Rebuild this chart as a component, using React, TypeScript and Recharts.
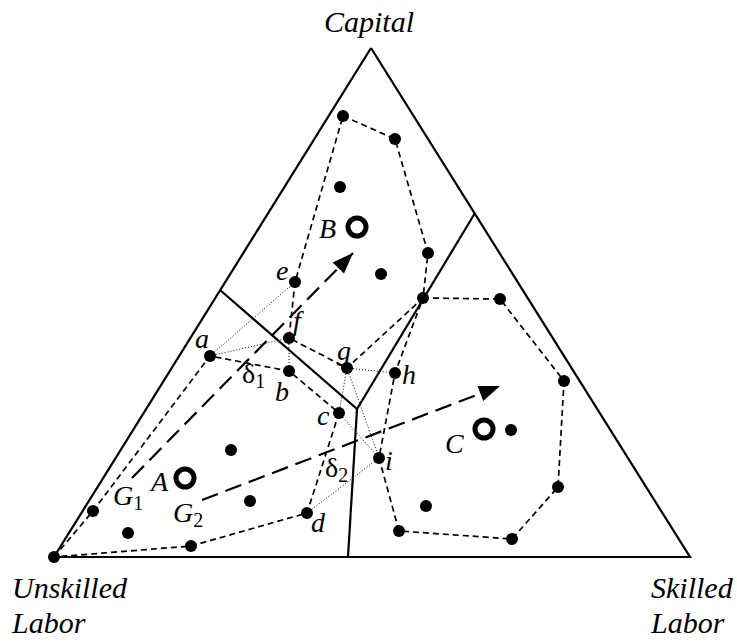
import { ScatterChart, Scatter, XAxis, YAxis } from 'recharts';

type Pt = { x: number; y: number };

const W = 737;
const H = 641;

// simplex corners: Capital (top), Skilled Labor (right), Unskilled Labor (left)
const triangle: Pt[] = [
  { x: 371, y: 48 },
  { x: 690, y: 557 },
  { x: 54, y: 557 },
  { x: 371, y: 48 },
];

// boundaries between the three specialization regions
const boundaryLeft: Pt[] = [{ x: 220, y: 290 }, { x: 357, y: 409 }];
const boundaryRight: Pt[] = [{ x: 475, y: 213 }, { x: 357, y: 409 }];
const boundaryDown: Pt[] = [{ x: 357, y: 409 }, { x: 348, y: 557 }];

// named countries
const a = { x: 210, y: 356 };
const b = { x: 289, y: 371 };
const c = { x: 339, y: 413 };
const d = { x: 307, y: 513 };
const e = { x: 295, y: 282 };
const f = { x: 289, y: 338 };
const g = { x: 347, y: 368 };
const h = { x: 395, y: 373 };
const i = { x: 379, y: 458 };
const hub = { x: 423, y: 298 };
const corner = { x: 54, y: 557 };

const otherA: Pt[] = [
  { x: 93, y: 511 }, { x: 191, y: 546 }, { x: 128, y: 533 },
  { x: 231, y: 450 }, { x: 250, y: 501 },
];
const otherB: Pt[] = [
  { x: 343, y: 116 }, { x: 395, y: 139 }, { x: 340, y: 187 },
  { x: 428, y: 253 }, { x: 381, y: 274 },
];
const otherC: Pt[] = [
  { x: 500, y: 299 }, { x: 564, y: 381 }, { x: 511, y: 430 },
  { x: 558, y: 487 }, { x: 512, y: 539 }, { x: 399, y: 531 }, { x: 426, y: 506 },
];

const countries: Pt[] = [corner, a, b, c, d, e, f, g, h, i, hub, ...otherA, ...otherB, ...otherC];

// convex hulls of each cluster
const hullA: Pt[] = [corner, otherA[0], a, b, c, d, otherA[1], corner];
const hullB: Pt[] = [otherB[0], otherB[1], otherB[3], hub, g, f, e, otherB[0]];
const hullC: Pt[] = [hub, otherC[0], otherC[1], otherC[3], otherC[4], otherC[5], i, h, hub];

// pairwise distance links
const links: Pt[][] = [[a, e], [a, f], [f, b], [g, h], [g, c], [g, i], [c, i], [d, i]];

// cluster centres
const centres: Pt[] = [{ x: 185, y: 478 }, { x: 357, y: 227 }, { x: 484, y: 429 }];

// growth paths of G1 and G2
const arrows = [
  { from: { x: 132, y: 478 }, to: { x: 353, y: 253 } },
  { from: { x: 202, y: 500 }, to: { x: 500, y: 386 } },
];
const heads = arrows.map((r) => ({
  ...r.to,
  angle: Math.atan2(r.to.y - r.from.y, r.to.x - r.from.x),
}));

type Label = Pt & { text: string; sub?: string; size?: number; upright?: boolean };

const labels: Label[] = [
  { x: 324, y: 32, text: 'Capital', size: 30 },
  { x: 12, y: 598, text: 'Unskilled', size: 30 },
  { x: 12, y: 633, text: 'Labor', size: 30 },
  { x: 651, y: 598, text: 'Skilled', size: 30 },
  { x: 651, y: 633, text: 'Labor', size: 30 },
  { x: 276, y: 280, text: 'e' },
  { x: 293, y: 330, text: 'f' },
  { x: 195, y: 348, text: 'a' },
  { x: 337, y: 360, text: 'g' },
  { x: 402, y: 384, text: 'h' },
  { x: 275, y: 401, text: 'b' },
  { x: 317, y: 425, text: 'c' },
  { x: 385, y: 470, text: 'i' },
  { x: 311, y: 532, text: 'd' },
  { x: 242, y: 383, text: 'δ', sub: '1', upright: true },
  { x: 325, y: 477, text: 'δ', sub: '2', upright: true },
  { x: 113, y: 505, text: 'G', sub: '1' },
  { x: 173, y: 522, text: 'G', sub: '2' },
  { x: 151, y: 491, text: 'A' },
  { x: 319, y: 238, text: 'B' },
  { x: 445, y: 453, text: 'C' },
];

const NoPoint = () => <g />;

const Dot = (props: any) => <circle cx={props.cx} cy={props.cy} r={6} fill="#000" />;

const Ring = (props: any) => (
  <circle cx={props.cx} cy={props.cy} r={9} fill="#fff" stroke="#000" strokeWidth={5} />
);

const Head = (props: any) => {
  const ang = props.payload.angle;
  const L = 21;
  const hw = 8;
  const cos = Math.cos(ang);
  const sin = Math.sin(ang);
  const pts = [
    [0, 0],
    [-L, -hw],
    [-L, hw],
  ]
    .map(([px, py]) => `${props.cx + px * cos - py * sin},${props.cy + px * sin + py * cos}`)
    .join(' ');
  return <polygon points={pts} fill="#000" />;
};

const Text = (props: any) => {
  const p: Label = props.payload;
  return (
    <text
      x={props.cx}
      y={props.cy}
      fontFamily='"Liberation Serif", "Times New Roman", serif'
      fontSize={p.size ?? 28}
      fontStyle={p.upright ? 'normal' : 'italic'}
      fill="#000"
    >
      {p.text}
      {p.sub && (
        <tspan fontSize={20} dy={5} fontStyle="normal">
          {p.sub}
        </tspan>
      )}
    </text>
  );
};

const solid = { stroke: '#000', strokeWidth: 2.2 };
const hullLine = { stroke: '#000', strokeWidth: 1.7, strokeDasharray: '6 4' };
const linkLine = { stroke: '#000', strokeWidth: 1, strokeDasharray: '1 2' };
const pathLine = { stroke: '#000', strokeWidth: 2.2, strokeDasharray: '17 8' };

export default function App() {
  return (
    <div style={{ position: 'absolute', left: 0, top: 0, background: '#fff' }}>
      <ScatterChart width={W} height={H} margin={{ top: 0, right: 0, bottom: 0, left: 0 }}>
        <XAxis type="number" dataKey="x" domain={[0, W]} hide />
        <YAxis type="number" dataKey="y" domain={[0, H]} reversed hide />

        <Scatter data={triangle} line={solid} shape={NoPoint} isAnimationActive={false} />
        <Scatter data={boundaryLeft} line={solid} shape={NoPoint} isAnimationActive={false} />
        <Scatter data={boundaryRight} line={solid} shape={NoPoint} isAnimationActive={false} />
        <Scatter data={boundaryDown} line={solid} shape={NoPoint} isAnimationActive={false} />

        <Scatter data={hullA} line={hullLine} shape={NoPoint} isAnimationActive={false} />
        <Scatter data={hullB} line={hullLine} shape={NoPoint} isAnimationActive={false} />
        <Scatter data={hullC} line={hullLine} shape={NoPoint} isAnimationActive={false} />

        {links.map((seg, k) => (
          <Scatter key={`link-${k}`} data={seg} line={linkLine} shape={NoPoint} isAnimationActive={false} />
        ))}

        {arrows.map((r, k) => (
          <Scatter key={`path-${k}`} data={[r.from, r.to]} line={pathLine} shape={NoPoint} isAnimationActive={false} />
        ))}
        <Scatter data={heads} shape={Head} isAnimationActive={false} />

        <Scatter data={countries} shape={Dot} isAnimationActive={false} />
        <Scatter data={centres} shape={Ring} isAnimationActive={false} />
        <Scatter data={labels} shape={Text} isAnimationActive={false} />
      </ScatterChart>
    </div>
  );
}
